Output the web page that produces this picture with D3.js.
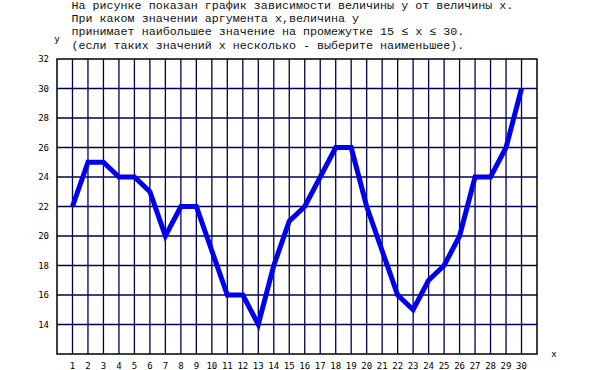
<!DOCTYPE html>
<html>
<head>
<meta charset="utf-8">
<script src="https://cdn.jsdelivr.net/npm/d3@7"></script>
<style>
  body { margin: 0; background: #fff; }
  .q { font-family: "Liberation Mono", "Courier New", monospace; font-size: 11.7px; fill: #111; }
  .tick-lbl { font-family: "DejaVu Sans Mono", monospace; font-size: 9px; fill: #000; }
</style>
</head>
<body>
<script>
// data
var xs = d3.range(1, 31);
var ys = [22, 25, 25, 24, 24, 23, 20, 22, 22, 19, 16, 16, 14, 18, 21, 22, 24, 26, 26, 22, 19, 16, 15, 17, 18, 20, 24, 24, 26, 30];
var yTicks = [14, 16, 18, 20, 22, 24, 26, 28, 30, 32];
var question = [
  "На рисунке показан график зависимости величины y от величины x.",
  "При каком значении аргумента x,величина y",
  "принимает наибольшее значение на промежутке 15 \u2264 x \u2264 30.",
  "(если таких значений x несколько - выберите наименьшее)."
];

var svg = d3.select("body").append("svg")
    .attr("width", 600)
    .attr("height", 370);

var x = d3.scaleLinear().domain([0, 31]).range([57, 537]);
var y = d3.scaleLinear().domain([12, 32]).range([354, 59]);

// question text
svg.selectAll(".q")
   .data(question)
   .join("text")
   .attr("class", "q")
   .attr("x", 71.5)
   .attr("y", (d, i) => [8.5, 21.5, 35, 48.5][i])
   .text(d => d);

// grid
svg.append("g").selectAll("line")
   .data(xs)
   .join("line")
   .attr("x1", d => x(d)).attr("x2", d => x(d))
   .attr("y1", y(12)).attr("y2", y(32))
   .attr("stroke", "#000050").attr("stroke-width", 1.3);

svg.append("g").selectAll("line")
   .data(yTicks.slice(0, -1))
   .join("line")
   .attr("x1", x(0)).attr("x2", x(31))
   .attr("y1", d => y(d)).attr("y2", d => y(d))
   .attr("stroke", "#000050").attr("stroke-width", 1.3);

// frame
svg.append("rect")
   .attr("x", x(0)).attr("y", y(32))
   .attr("width", x(31) - x(0)).attr("height", y(12) - y(32))
   .attr("fill", "none").attr("stroke", "#000").attr("stroke-width", 1.5);

// tick labels
svg.selectAll(".ylbl")
   .data(yTicks)
   .join("text")
   .attr("class", "tick-lbl")
   .attr("x", 49)
   .attr("y", d => y(d) + 3)
   .attr("text-anchor", "end")
   .text(d => d);

svg.selectAll(".xlbl")
   .data(xs)
   .join("text")
   .attr("class", "tick-lbl")
   .attr("x", d => x(d))
   .attr("y", 369)
   .attr("text-anchor", "middle")
   .text(d => d);

svg.append("text").attr("class", "tick-lbl").attr("x", 57).attr("y", 42).attr("text-anchor", "middle").text("y");
svg.append("text").attr("class", "tick-lbl").attr("x", 554).attr("y", 357).attr("text-anchor", "middle").text("x");

// graph
var line = d3.line()
   .x((d, i) => x(xs[i]))
   .y(d => y(d));

svg.append("path")
   .datum(ys)
   .attr("d", line)
   .attr("fill", "none")
   .attr("stroke", "#0000ee")
   .attr("stroke-width", 5)
   .attr("stroke-linejoin", "miter");
</script>
</body>
</html>
